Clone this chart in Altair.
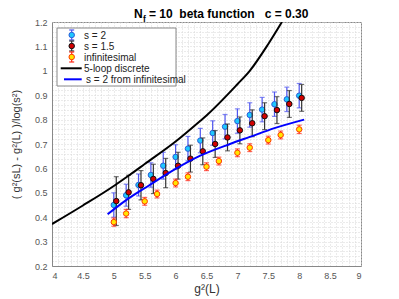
import altair as alt
import pandas as pd
import numpy as np

# ---- data ----
s2_x = [5.0, 5.2, 5.4, 5.6, 5.8, 6.0, 6.2, 6.4, 6.6, 6.8, 7.0, 7.2, 7.4, 7.6, 7.8, 8.0]
s2_y = [0.450, 0.490, 0.532, 0.573, 0.611, 0.647, 0.681, 0.714, 0.745, 0.771, 0.794, 0.819, 0.841, 0.863, 0.883, 0.898]
s2_e = [0.050, 0.045, 0.045, 0.050, 0.055, 0.050, 0.050, 0.050, 0.050, 0.050, 0.050, 0.050, 0.050, 0.050, 0.050, 0.050]

s15_x = [5.04, 5.24, 5.44, 5.64, 5.84, 6.04, 6.24, 6.44, 6.64, 6.84, 7.04, 7.24, 7.44, 7.64, 7.84, 8.04]
s15_y = [0.466, 0.502, 0.531, 0.557, 0.581, 0.611, 0.640, 0.670, 0.700, 0.727, 0.756, 0.785, 0.814, 0.839, 0.864, 0.889]
s15_e = [0.100, 0.070, 0.060, 0.060, 0.060, 0.055, 0.055, 0.055, 0.055, 0.055, 0.055, 0.055, 0.055, 0.055, 0.055, 0.055]

inf_x = [5.0, 5.2, 5.5, 5.7, 6.0, 6.2, 6.5, 6.7, 7.0, 7.2, 7.5, 7.7, 8.0]
inf_y = [0.380, 0.415, 0.465, 0.495, 0.540, 0.566, 0.607, 0.630, 0.664, 0.685, 0.716, 0.737, 0.760]
inf_e = [0.017, 0.017, 0.016, 0.016, 0.016, 0.016, 0.016, 0.016, 0.016, 0.016, 0.016, 0.016, 0.017]

loop5_x = [4.0, 4.5, 5.0, 5.26, 5.5, 6.0, 6.4, 6.5, 7.0, 7.2, 7.5, 7.72]
loop5_y = [0.372, 0.448, 0.528, 0.574, 0.618, 0.710, 0.795, 0.817, 0.945, 1.000, 1.110, 1.200]

blue_x = [4.9, 5.2, 5.58, 6.0, 6.4, 6.88, 7.2, 7.6, 8.08]
blue_y = [0.412, 0.470, 0.532, 0.598, 0.652, 0.700, 0.729, 0.765, 0.800]

NB = "\u00a0"
series_names = ["s = 2", "s = 1.5", "infinitesimal", "5-loop discrete", "s = 2 from infinitesimal"]
title_main = "N"
title_sub = "f"
title_rest = "= 10" + NB * 2 + "beta function" + NB * 3 + "c = 0.30"
x_title = "g²(L)"
y_title = "( g²(sL) - g²(L) )/log(s²)"

x_major = [4, 4.5, 5, 5.5, 6, 6.5, 7, 7.5, 8, 8.5, 9]
y_major = [0.2, 0.3, 0.4, 0.5, 0.6, 0.7, 0.8, 0.9, 1.0, 1.1, 1.2]
x_grid = [round(v, 2) for v in np.arange(4.0, 9.0001, 0.1)]
y_grid = [round(v, 3) for v in np.arange(0.2, 1.2001, 0.02)]

# ---- tables ----
def eb(xs, ys, es):
    return pd.DataFrame({"x": xs, "y": ys, "lo": [a - b for a, b in zip(ys, es)],
                         "hi": [a + b for a, b in zip(ys, es)]})

d_s2 = eb(s2_x, s2_y, s2_e)
d_s15 = eb(s15_x, s15_y, s15_e)
d_inf = eb(inf_x, inf_y, inf_e)
d_loop = pd.DataFrame({"x": loop5_x, "y": loop5_y})
d_blue = pd.DataFrame({"x": blue_x, "y": blue_y})
one = pd.DataFrame({"a": [0]})

FONT = "Liberation Sans"
xscale = alt.Scale(domain=[4, 9], nice=False, zero=False)
yscale = alt.Scale(domain=[0.2, 1.2], nice=False, zero=False)

xaxis = alt.Axis(values=x_grid, grid=True, gridDash=[1, 2], gridColor="#d6d6d6", ticks=False,
                 format="~g", labelOverlap=False,
                 labelExpr="abs(datum.value*2 - round(datum.value*2)) < 0.000001 ? datum.label : ''",
                 labelFontSize=9, labelColor="#555555", labelFont=FONT, labelPadding=5,
                 domainColor="#888888", title=x_title, titleFont=FONT, titleFontSize=12,
                 titleFontWeight="normal", titleColor="#333333", titlePadding=3)
yaxis = alt.Axis(values=y_grid, grid=True, gridDash=[1, 2], gridColor="#d6d6d6", ticks=False,
                 format="~g", labelOverlap=False,
                 labelExpr="abs(datum.value*10 - round(datum.value*10)) < 0.000001 ? datum.label : ''",
                 labelFontSize=9, labelColor="#555555", labelFont=FONT, labelPadding=5,
                 domainColor="#888888", title=y_title, titleFont=FONT, titleFontSize=11,
                 titleFontWeight="normal", titleColor="#333333", titlePadding=13)

X = lambda f="x": alt.X(f"{f}:Q", scale=xscale, axis=xaxis)
Y = lambda f="y": alt.Y(f"{f}:Q", scale=yscale, axis=yaxis)


def errlayers(df, barcol, fill, stroke):
    rule = alt.Chart(df).mark_rule(color=barcol, strokeWidth=1.2).encode(
        x=X(), y=Y("lo"), y2="hi:Q")
    t1 = alt.Chart(df).mark_tick(color=barcol, orient="horizontal", size=5, thickness=1.2).encode(
        x=X(), y=Y("lo"))
    t2 = alt.Chart(df).mark_tick(color=barcol, orient="horizontal", size=5, thickness=1.2).encode(
        x=X(), y=Y("hi"))
    pts = alt.Chart(df).mark_point(filled=False, shape="circle", size=30, fill=fill,
                                   fillOpacity=1, stroke=stroke, strokeWidth=1,
                                   opacity=1).encode(x=X(), y=Y())
    return [rule, t1, t2, pts]


layers = []
layers += errlayers(d_s2, "#4f55f0", "#1ec8ff", "#2b5fd8")
layers += errlayers(d_s15, "#333333", "#d40000", "#111111")
layers += errlayers(d_inf, "#ff2a1a", "#ffe600", "#ff3a00")

loop_line = alt.Chart(d_loop).mark_line(color="#000000", strokeWidth=2, clip=True,
                                        interpolate="monotone").encode(x=X(), y=Y())
blue_line = alt.Chart(d_blue).mark_line(color="#0000ff", strokeWidth=2,
                                        interpolate="monotone").encode(x=X(), y=Y())
layers += [loop_line, blue_line]

# ---- title (with subscript) ----
def txt(t, x, y, size, weight="normal", color="#000000", align="left"):
    return alt.Chart(one).mark_text(text=t, font=FONT, fontSize=size, fontWeight=weight,
                                    color=color, align=align, baseline="alphabetic").encode(
        x=alt.value(x), y=alt.value(y))

layers += [txt(title_main, 82, -4.5, 12, "bold"),
           txt(title_sub, 91, -0.5, 8.5, "bold"),
           txt(title_rest, 97, -4.5, 12, "bold")]

# ---- legend ----
layers.append(alt.Chart(one).mark_rect(fill="white", stroke="#888888", strokeWidth=1).encode(
    x=alt.value(5), x2=alt.value(124), y=alt.value(6), y2=alt.value(64)))

def leg_eb(yc, barcol, fill, stroke):
    r = alt.Chart(one).mark_rule(color=barcol, strokeWidth=1.2).encode(
        x=alt.value(19.7), y=alt.value(yc - 5), y2=alt.value(yc + 5))
    ta = alt.Chart(one).mark_rule(color=barcol, strokeWidth=1.2).encode(
        x=alt.value(17.2), x2=alt.value(22.2), y=alt.value(yc - 5))
    tb = alt.Chart(one).mark_rule(color=barcol, strokeWidth=1.2).encode(
        x=alt.value(17.2), x2=alt.value(22.2), y=alt.value(yc + 5))
    p = alt.Chart(one).mark_point(shape="circle", size=30, fill=fill, fillOpacity=1,
                                  stroke=stroke, strokeWidth=1, opacity=1).encode(
        x=alt.value(19.7), y=alt.value(yc))
    return [r, ta, tb, p]

rows = [13, 24, 35, 46.3, 57.3]
layers += leg_eb(rows[0], "#4f55f0", "#1ec8ff", "#2b5fd8")
layers += leg_eb(rows[1], "#333333", "#d40000", "#111111")
layers += leg_eb(rows[2], "#ff2a1a", "#ffe600", "#ff3a00")
layers.append(alt.Chart(one).mark_rule(color="#000000", strokeWidth=2).encode(
    x=alt.value(8.7), x2=alt.value(29.7), y=alt.value(rows[3])))
layers.append(alt.Chart(one).mark_rule(color="#0000ff", strokeWidth=2).encode(
    x=alt.value(12), x2=alt.value(29.7), y=alt.value(rows[4])))
for i, name in enumerate(series_names):
    layers.append(txt(name, 34 if i == 4 else 32, rows[i] + 3.5, 10, color="#222222"))

chart = alt.layer(*layers).properties(
    width=309, height=244,
    autosize=alt.AutoSizeParams(type="none"),
    padding={"left": 44, "top": 14, "right": 30, "bottom": 33},
).configure_view(stroke="#888888", strokeWidth=1)

chart.save("out.html", embed_options={"renderer": "svg", "actions": False})
